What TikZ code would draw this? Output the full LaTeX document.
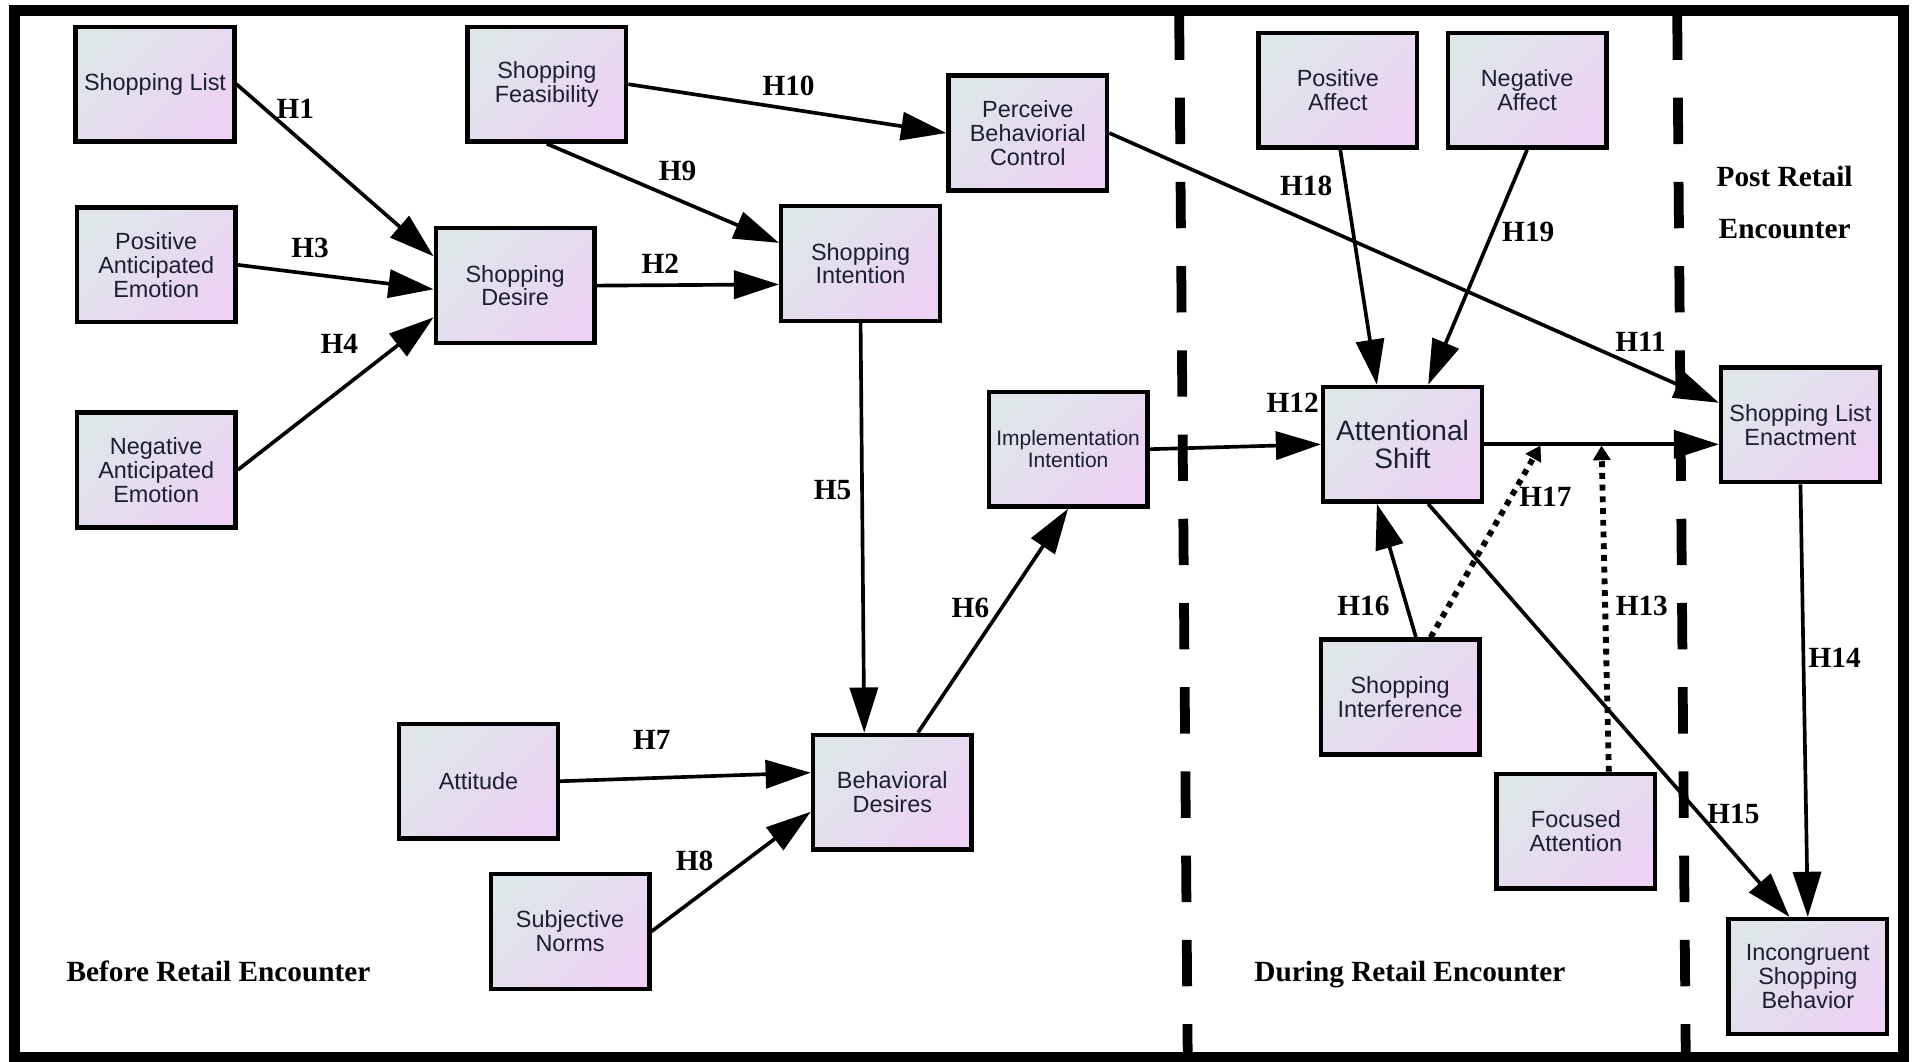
\documentclass[tikz,border=0pt]{standalone}
\usepackage{fontspec}
\setmainfont{Liberation Sans}
\newfontfamily\labfont{Liberation Serif}
\usetikzlibrary{arrows.meta}
\definecolor{boxA}{RGB}{222,230,233}
\definecolor{boxB}{RGB}{236,210,243}
\definecolor{txtc}{RGB}{28,30,50}
\begin{document}
\begin{tikzpicture}[x=0.5pt,y=-0.5pt,
 box/.style={draw=black, line width=1.8pt, minimum width=65pt, minimum height=47pt, inner sep=0pt,
   top color=boxA, bottom color=boxB, shading angle=45, align=center, text=txtc,
   font=\fontsize{9.6}{9.8}\selectfont},
 arr/.style={line width=1.5pt, -{Triangle[length=18.5pt,width=11.5pt]}},
 dotarr/.style={line width=2.4pt, dash pattern=on 2.4pt off 2.4pt, -{Triangle[length=6pt,width=7pt]}},
 hl/.style={font=\labfont\bfseries\fontsize{12}{12}\selectfont, inner sep=0pt, text depth=0pt},
 divider/.style={line width=4pt, dash pattern=on 19pt off 15.5pt}
]
\useasboundingbox (0,0) rectangle (1568,870);
\draw[line width=4.5pt] (12,9) rectangle (1559,866);
\draw[divider] (966,11) -- (973,866);
\draw[divider] (1374,11) -- (1381,866);

% boxes
\node[box] (sl) at (127,69) {Shopping List};
\node[box] (sf) at (448,69) {Shopping\\Feasibility};
\node[box] (pbc) at (842,109) {Perceive\\Behaviorial\\Control};
\node[box] (pae) at (128,217) {Positive\\Anticipated\\Emotion};
\node[box] (sd) at (422,234) {Shopping\\Desire};
\node[box] (si) at (705,216) {Shopping\\Intention};
\node[box] (nae) at (128,385) {Negative\\Anticipated\\Emotion};
\node[box, font=\fontsize{8.6}{9}\selectfont] (ii) at (875,368) {Implementation\\Intention};
\node[box] (att) at (392,640) {Attitude};
\node[box] (bd) at (731,649) {Behavioral\\Desires};
\node[box] (sn) at (467,763) {Subjective\\Norms};
\node[box] (pa) at (1096,74) {Positive\\Affect};
\node[box] (na) at (1251,74) {Negative\\Affect};
\node[box, font=\fontsize{11.5}{11.5}\selectfont] (as) at (1149,364) {Attentional\\Shift};
\node[box] (sle) at (1475,348) {Shopping List\\Enactment};
\node[box] (sint) at (1147,571) {Shopping\\Interference};
\node[box] (fa) at (1291,681) {Focused\\Attention};
\node[box] (isb) at (1481,800) {Incongruent\\Shopping\\Behavior};

% connectors
\draw[arr] (sl.east) -- ([yshift=12pt]sd.west);
\draw[arr] (pae.east) -- ([yshift=-1.5pt]sd.west);
\draw[arr] (nae.east) -- ([yshift=-13pt]sd.west);
\draw[arr] (sd.east) -- ([yshift=-8.5pt]si.west);
\draw[arr] (sf.south) -- ([yshift=8.5pt]si.west);
\draw[arr] (sf.east) -- (pbc.west);
\draw[arr] (pbc.east) -- ([yshift=9pt]sle.west);
\draw[arr] (si.south) -- ([xshift=-11.5pt]bd.north);
\draw[arr] ([xshift=10.5pt]bd.north) -- (ii.south);
\draw[arr] (att.east) -- ([yshift=8pt]bd.west);
\draw[arr] (sn.east) -- ([yshift=-8pt]bd.west);
\draw[arr] (ii.east) -- (as.west);
\draw[arr] (as.east) -- ([yshift=-8pt]sle.west);
\draw[arr] ([xshift=1pt]pa.south) -- ([xshift=-10.5pt]as.north);
\draw[arr] (na.south) -- ([xshift=10.5pt]as.north);
\draw[arr] ([xshift=6.5pt]sint.north) -- ([xshift=-10.5pt]as.south);
\draw[arr] (sle.south) -- (isb.north);
\draw[arr] ([xshift=10.5pt]as.south) -- ([xshift=-7.5pt]isb.north);

\coordinate (m17) at (1262,365);
\coordinate (m13) at (1312,365);
\draw[dotarr] ([xshift=12.5pt]sint.north) -- (m17);
\draw[dotarr] ([xshift=13.5pt]fa.north) -- (m13);

% labels
\node[hl] (h1) at (242,89) {H1};
\node[hl] (h3) at (254,203) {H3};
\node[hl] (h4) at (278,282) {H4};
\node[hl] (h2) at (541,216) {H2};
\node[hl] (h9) at (555,140) {H9};
\node[hl] (h10) at (646,70) {H10};
\node[hl] (h11) at (1344,280) {H11};
\node[hl] (h5) at (682,401) {H5};
\node[hl] (h6) at (795,498) {H6};
\node[hl] (h7) at (534,606) {H7};
\node[hl] (h8) at (569,705) {H8};
\node[hl] (h12) at (1059,330) {H12};
\node[hl] (h18) at (1070,152) {H18};
\node[hl] (h19) at (1252,190) {H19};
\node[hl] (h17) at (1266,407) {H17};
\node[hl] (h16) at (1117,496) {H16};
\node[hl] (h13) at (1345,496) {H13};
\node[hl] (h14) at (1503,539) {H14};
\node[hl] (h15) at (1420,667) {H15};

\node[hl] (before) at (179,796) {Before Retail Encounter};
\node[hl] (during) at (1155,796) {During Retail Encounter};
\node[font=\labfont\bfseries\fontsize{12}{21}\selectfont, inner sep=0pt, align=center] (post) at (1462,166) {Post Retail\\Encounter};
\end{tikzpicture}
\end{document}
